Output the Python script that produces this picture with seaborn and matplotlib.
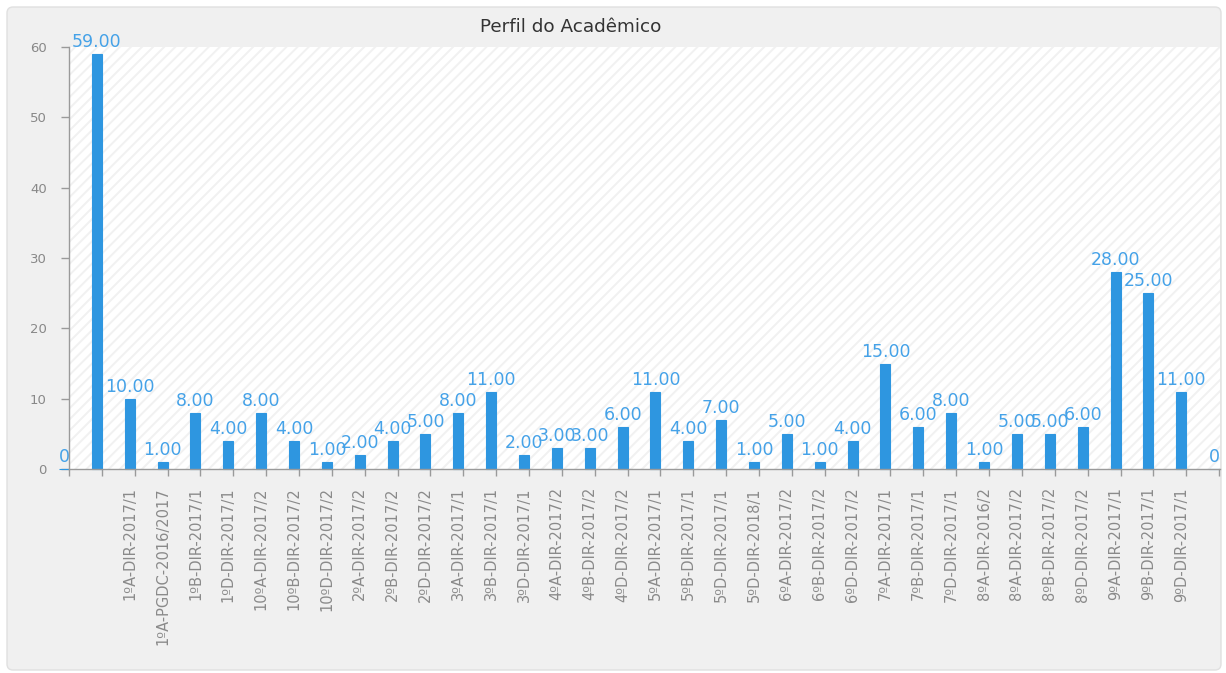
import seaborn as sns
import matplotlib.pyplot as plt
import pandas as pd
from matplotlib.patches import FancyBboxPatch, Rectangle
from matplotlib.transforms import IdentityTransform

# turmas (empty names are the unlabeled bars of the original chart)
turmas = ["", "", "1ºA-DIR-2017/1", "1ºA-PGDC-2016/2017", "1ºB-DIR-2017/1",
          "1ºD-DIR-2017/1", "10ºA-DIR-2017/2", "10ºB-DIR-2017/2", "10ºD-DIR-2017/2",
          "2ºA-DIR-2017/2", "2ºB-DIR-2017/2", "2ºD-DIR-2017/2", "3ºA-DIR-2017/1",
          "3ºB-DIR-2017/1", "3ºD-DIR-2017/1", "4ºA-DIR-2017/2", "4ºB-DIR-2017/2",
          "4ºD-DIR-2017/2", "5ºA-DIR-2017/1", "5ºB-DIR-2017/1", "5ºD-DIR-2017/1",
          "5ºD-DIR-2018/1", "6ºA-DIR-2017/2", "6ºB-DIR-2017/2", "6ºD-DIR-2017/2",
          "7ºA-DIR-2017/1", "7ºB-DIR-2017/1", "7ºD-DIR-2017/1", "8ºA-DIR-2016/2",
          "8ºA-DIR-2017/2", "8ºB-DIR-2017/2", "8ºD-DIR-2017/2", "9ºA-DIR-2017/1",
          "9ºB-DIR-2017/1", "9ºD-DIR-2017/1", ""]
alunos = [0, 59, 10, 1, 8, 4, 8, 4, 1, 2, 4, 5, 8, 11, 2, 3, 3, 6, 11, 4, 7,
          1, 5, 1, 4, 15, 6, 8, 1, 5, 5, 6, 28, 25, 11, 0]
titulo = "Perfil do Acadêmico"

W, H = 1226, 673
BLUE = '#2e96e0'
LABEL_BLUE = '#45a2e8'

sns.set_style('white')
plt.rcParams['font.family'] = ['DejaVu Sans']
plt.rcParams['hatch.linewidth'] = 1.4

df = pd.DataFrame({'pos': range(len(alunos)), 'alunos': alunos})

fig = plt.figure(figsize=(W / 100, H / 100), dpi=100)
fig.patch.set_facecolor('white')

# gray rounded panel behind everything
panel = FancyBboxPatch((7, 3), 1214, 663, boxstyle='round,pad=0,rounding_size=6',
                       transform=IdentityTransform(), fc='#f0f0f0', ec='#e0e0e0', lw=1, zorder=-10)
fig.add_artist(panel)

ax = fig.add_axes([69 / W, (H - 469) / H, (1220 - 69) / W, (469 - 47) / H])
ax.patch.set_alpha(0)
ax.add_patch(Rectangle((0, 0), 1, 1, transform=ax.transAxes, fc='white', ec='#f1f1f1',
                       hatch='///', lw=0, zorder=0))

sns.barplot(data=df, x='pos', y='alunos', color=BLUE, saturation=1, width=0.304, ax=ax, zorder=2)
for bar in ax.containers[0]:
    bar.set_clip_on(False)
    bar.set_edgecolor(BLUE)
    bar.set_linewidth(0.8)

labels = ['0' if v == 0 else f'{v:.2f}' for v in alunos]
texts = ax.bar_label(ax.containers[0], labels=labels, padding=2, color=LABEL_BLUE, fontsize=12.5)
for t in texts:
    t.set_annotation_clip(False)

ax.set_xlabel('')
ax.set_ylabel('')

ax.set_xticks(range(len(turmas)))
ax.set_xticklabels(turmas, rotation=90)
ax.set_xticks([i + 0.152 for i in range(len(turmas))], minor=True)
ax.tick_params(axis='x', which='major', length=0, pad=13, labelcolor='#8a8a8a', labelsize=10.5)
ax.tick_params(axis='x', which='minor', bottom=True, length=5, width=1, color='#9a9a9a')
ax.set_yticks(range(0, 61, 10))
ax.tick_params(axis='y', left=True, length=6, width=1, color='#9a9a9a', pad=10,
               labelcolor='#888888', labelsize=9.5)

# limits after the ticks, so set_xticks does not widen them
ax.set_xlim(0.152, 35.18)
ax.set_ylim(0, 60)

for side in ['top', 'right']:
    ax.spines[side].set_visible(False)
for side in ['left', 'bottom']:
    ax.spines[side].set_color('#9a9a9a')
    ax.spines[side].set_linewidth(1)
    ax.spines[side].set_zorder(3)

fig.text(571 / W, 1 - 27 / H, titulo, ha='center', va='center', color='#333333', fontsize=13.2)

fig.savefig('out.png', dpi=100)
